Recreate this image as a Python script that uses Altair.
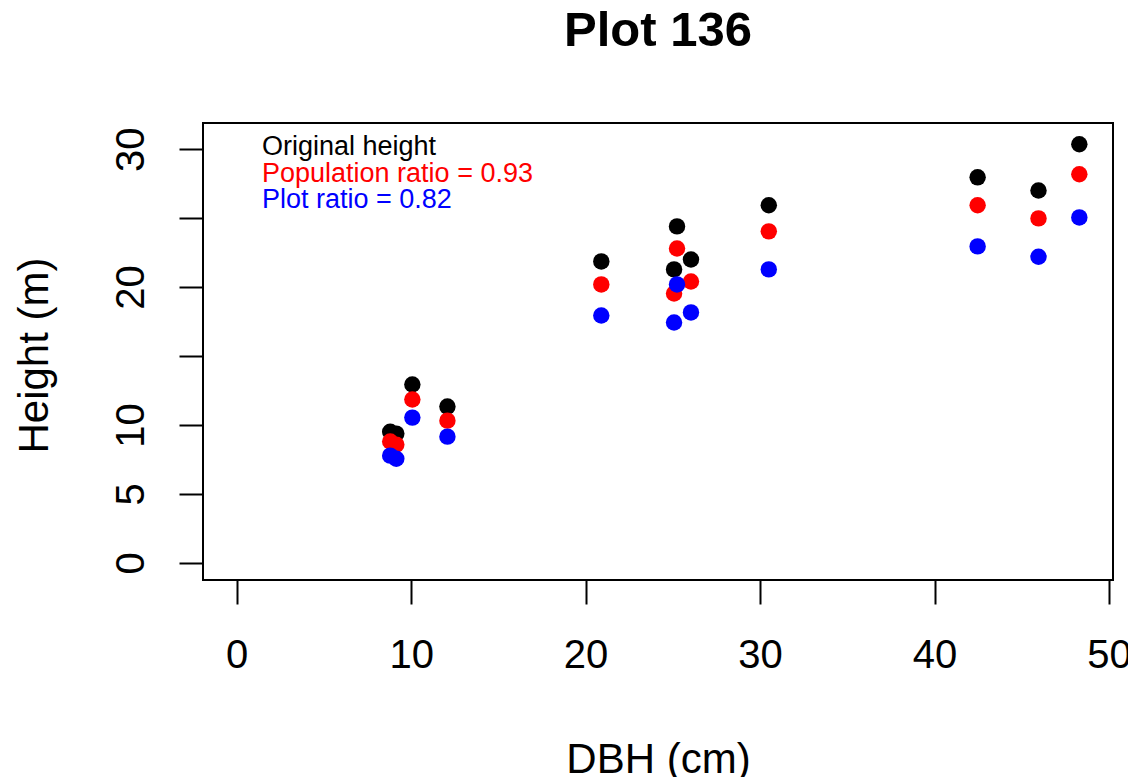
import altair as alt
import pandas as pd

# Data
dbh = [8.8, 9.15, 10.07, 12.08, 20.9, 25.24, 26.04, 25.07, 30.5, 42.47, 45.96, 48.3]
orig_height = [9.5, 9.37, 12.93, 11.33, 21.86, 24.4, 22.0, 21.28, 25.93, 27.96, 27.0, 30.36]
pop_height = [8.8, 8.57, 11.84, 10.31, 20.19, 22.8, 20.4, 19.53, 24.04, 25.93, 24.98, 28.18]
plot_height = [7.77, 7.55, 10.53, 9.15, 17.94, 20.19, 18.16, 17.43, 21.28, 22.95, 22.2, 25.05]

series_names = ["Original height", "Population ratio = 0.93", "Plot ratio = 0.82"]
series_colors = ["#000000", "#FF0000", "#0000FF"]
x_ticks = [0, 10, 20, 30, 40, 50]
y_ticks = [0, 5, 10, 15, 20, 25, 30]

FONT = "Liberation Sans"

rows = []
for i, vals in enumerate([orig_height, pop_height, plot_height]):
    for d, h in zip(dbh, vals):
        rows.append({"dbh": d, "height": h, "series": series_names[i], "order": i})
df = pd.DataFrame(rows)

points = alt.Chart(df).mark_circle(size=270, opacity=1).encode(
    x=alt.X(
        "dbh:Q",
        scale=alt.Scale(domain=[-1.93, 50.23], nice=False, zero=False),
        axis=alt.Axis(
            values=x_ticks, title="DBH (cm)", grid=False, domain=False,
            tickSize=24, tickWidth=2, tickColor="black",
            labelFontSize=40, labelFont=FONT, labelColor="black",
            labelBaseline="alphabetic", labelPadding=63, labelFlush=False,
            titleFontSize=42, titleFont=FONT, titleFontWeight="normal", titleColor="black",
            titleBaseline="alphabetic", titleY=192, titleX=455, titleAlign="center",
        ),
    ),
    y=alt.Y(
        "height:Q",
        scale=alt.Scale(domain=[-1.25, 31.9], nice=False, zero=False),
        axis=alt.Axis(
            values=y_ticks, title="Height (m)", grid=False, domain=False,
            labelExpr="(datum.value == 15 || datum.value == 25) ? '' : datum.label",
            tickSize=24, tickWidth=2, tickColor="black",
            labelFontSize=40, labelFont=FONT, labelColor="black",
            labelAngle=270, labelAlign="center", labelBaseline="alphabetic",
            labelPadding=36, labelFlush=False,
            titleFontSize=42, titleFont=FONT, titleFontWeight="normal", titleColor="black",
            titleAngle=270, titleBaseline="alphabetic", titleAlign="center",
            titleX=-156, titleY=232,
        ),
    ),
    color=alt.Color("series:N", scale=alt.Scale(domain=series_names, range=series_colors), legend=None),
    order=alt.Order("order:Q"),
)

layers = [points]
for i, (lab, col) in enumerate(zip(series_names, series_colors)):
    layers.append(
        alt.Chart(pd.DataFrame({"label": [lab]})).mark_text(
            align="left", baseline="alphabetic", fontSize=27, font=FONT, color=col
        ).encode(text="label:N", x=alt.value(59), y=alt.value(32 + 26.5 * i))
    )

chart = alt.layer(*layers).properties(
    width=910,
    height=457,
    title=alt.TitleParams(
        "Plot 136", fontSize=49, fontWeight="bold", font=FONT, color="black",
        anchor="middle", frame="group", offset=67,
    ),
    autosize=alt.AutoSizeParams(type="none"),
    padding={"left": 195, "top": 115, "right": 15, "bottom": 200},
).configure_view(stroke="black", strokeWidth=2)

chart.save("out.html", embed_options={"renderer": "svg", "actions": False})
